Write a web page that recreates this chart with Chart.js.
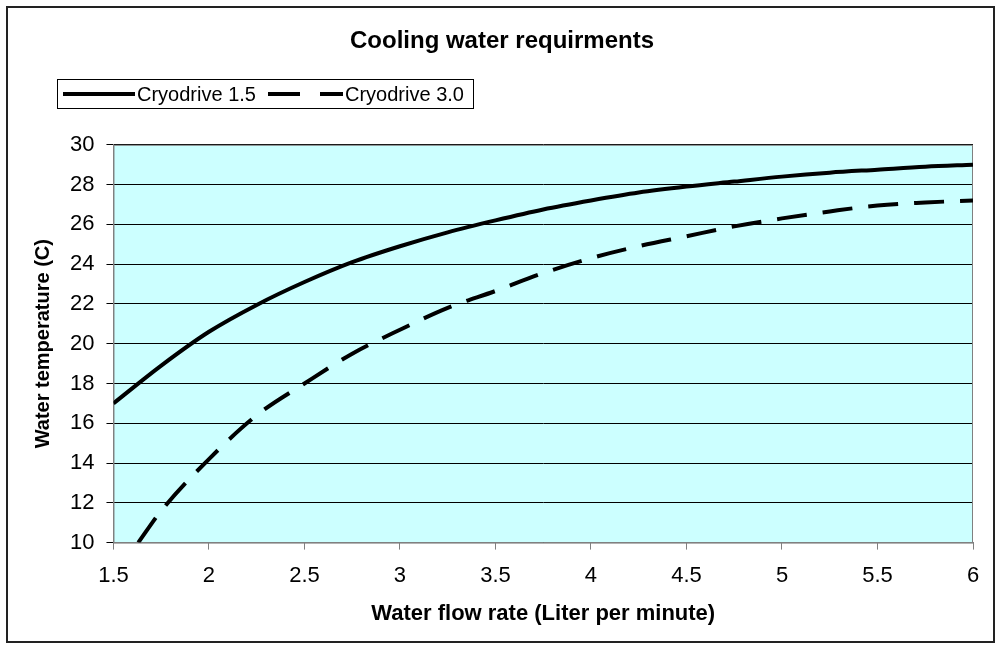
<!DOCTYPE html>
<html>
<head>
<meta charset="utf-8">
<title>Cooling water requirments</title>
<script src="https://cdn.jsdelivr.net/npm/chart.js@4.4.1/dist/chart.umd.min.js"></script>
<style>
    body { margin: 0; background: #fff; }
    #wrap { position: relative; width: 998px; height: 646px; }
    #frame { position: absolute; left: 6px; top: 6px; width: 985px; height: 633px; border: 2px solid #222; pointer-events: none; }
</style>
</head>
<body>
<div id="wrap">
    <canvas id="coolingChart" width="998" height="646"></canvas>
    <div id="frame"></div>
</div>
<script>
// Values
var flow15 = [1.5, 1.75, 2, 2.25, 2.5, 2.75, 3, 3.25, 3.5, 3.75, 4, 4.25, 4.5, 4.75, 5, 5.25, 5.5, 5.75, 6];
var temp15 = [17.0, 18.9, 20.6, 21.95, 23.1, 24.1, 24.9, 25.6, 26.2, 26.75, 27.2, 27.6, 27.9, 28.15, 28.4, 28.6, 28.75, 28.9, 29.0];

var flow30 = [1.63, 1.75, 2, 2.25, 2.5, 2.75, 3, 3.25, 3.5, 3.75, 4, 4.25, 4.5, 4.75, 5, 5.25, 5.5, 5.75, 6];
var temp30 = [10.0, 11.6, 14.2, 16.4, 18.0, 19.5, 20.7, 21.8, 22.65, 23.55, 24.3, 24.9, 25.4, 25.9, 26.3, 26.65, 26.95, 27.1, 27.2];

var seriesNames = ['Cryodrive 1.5', 'Cryodrive 3.0'];

function toPoints(xs, ys) {
    var pts = [];
    for (var i = 0; i < xs.length; i++) {
        pts.push({ x: xs[i], y: ys[i] });
    }
    return pts;
}

// plot area fill + frame
var plotBackground = {
    id: 'plotBackground',
    beforeDraw: function(chart) {
        var a = chart.chartArea, ctx = chart.ctx;
        ctx.save();
        ctx.fillStyle = '#ccffff';
        ctx.fillRect(a.left, a.top, a.right - a.left, a.bottom - a.top);
        ctx.restore();
    },
    beforeDatasetsDraw: function(chart) {
        var a = chart.chartArea, ctx = chart.ctx;
        ctx.save();
        ctx.strokeStyle = '#808080';
        ctx.lineWidth = 1;
        ctx.strokeRect(a.left + 0.5, a.top + 0.5, a.right - a.left - 1, a.bottom - a.top);
        ctx.restore();
    }
};

// legend in a box, Excel style (sample line directly followed by its text)
var boxLegend = {
    id: 'boxLegend',
    afterDraw: function(chart) {
        var ctx = chart.ctx;
        var slots = [{ x: 63, w: 72 }, { x: 268, w: 75 }];
        var y = 94;
        ctx.save();
        ctx.strokeStyle = '#000';
        ctx.lineWidth = 1;
        ctx.strokeRect(57.5, 79.5, 416, 29);
        ctx.font = '20px "Liberation Sans", Arial, sans-serif';
        ctx.fillStyle = '#000';
        ctx.textBaseline = 'middle';
        chart.data.datasets.forEach(function(ds, i) {
            var s = slots[i];
            ctx.beginPath();
            ctx.lineWidth = ds.borderWidth;
            ctx.strokeStyle = ds.borderColor;
            ctx.setLineDash(ds.borderDash ? [32, 20] : []);
            ctx.moveTo(s.x, y);
            ctx.lineTo(s.x + s.w, y);
            ctx.stroke();
            ctx.setLineDash([]);
            ctx.fillText(ds.label, s.x + s.w + 2, y + 1);
        });
        ctx.restore();
    }
};

Chart.defaults.font.family = '"Liberation Sans", Arial, sans-serif';
Chart.defaults.color = '#000';

function plainTick(value) {
    return String(Math.round(value * 100) / 100);
}

var ctx = document.getElementById('coolingChart').getContext('2d');
new Chart(ctx, {
    type: 'line',
    data: {
        datasets: [{
            label: seriesNames[0],
            data: toPoints(flow15, temp15),
            borderColor: '#000',
            borderWidth: 4,
            pointRadius: 0,
            cubicInterpolationMode: 'monotone',
            fill: false
        }, {
            label: seriesNames[1],
            data: toPoints(flow30, temp30),
            borderColor: '#000',
            borderWidth: 4,
            borderDash: [30, 16],
            pointRadius: 0,
            cubicInterpolationMode: 'monotone',
            fill: false
        }]
    },
    options: {
        responsive: false,
        animation: false,
        layout: { padding: { left: 31, right: 25, top: 0, bottom: 21 } },
        plugins: {
            legend: { display: false },
            tooltip: { enabled: false },
            title: {
                display: true,
                text: 'Cooling water requirments',
                font: { size: 24, weight: 'bold' },
                padding: { top: 27, bottom: 89 }
            }
        },
        scales: {
            x: {
                type: 'linear',
                min: 1.5,
                max: 6,
                ticks: { stepSize: 0.5, font: { size: 22 }, padding: 13, callback: plainTick },
                grid: { drawOnChartArea: false, tickLength: 7, color: '#808080' },
                border: { color: '#808080' },
                title: {
                    display: true,
                    text: 'Water flow rate (Liter per minute)',
                    font: { size: 22, weight: 'bold', lineHeight: 1.0 },
                    padding: { top: 1, bottom: 0 }
                }
            },
            y: {
                min: 10,
                max: 30,
                ticks: { stepSize: 2, font: { size: 22 }, padding: 12, callback: plainTick },
                grid: { color: '#000', tickLength: 7 },
                border: { color: '#808080' },
                title: {
                    display: true,
                    text: 'Water temperature (C)',
                    font: { size: 20, weight: 'bold' },
                    padding: { top: 0, bottom: 3 }
                }
            }
        }
    },
    plugins: [plotBackground, boxLegend]
});
</script>
</body>
</html>
